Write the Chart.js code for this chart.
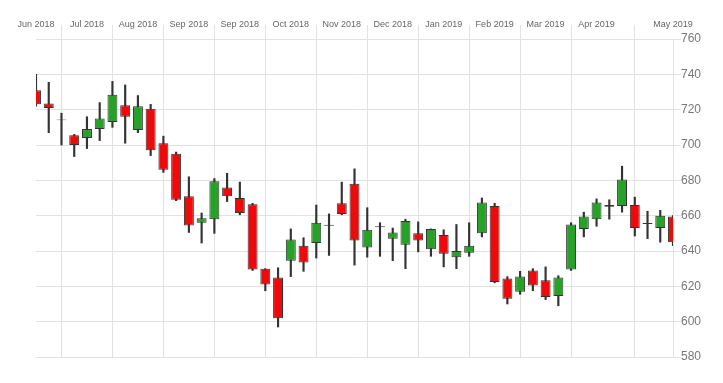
<!DOCTYPE html>
<html>
<head>
<meta charset="utf-8">
<script src="https://cdn.jsdelivr.net/npm/chart.js@4.4.0/dist/chart.umd.min.js"></script>
<style>
  html, body { margin: 0; padding: 0; background: #fff; }
  #wrap { width: 723px; height: 383px; }
</style>
</head>
<body>
<div id="wrap"><canvas id="candles"></canvas></div>
<script>
// weekly candles, Jun 2018 - May 2019
var weeks = [
  '2018-06-01','2018-06-08','2018-06-15','2018-06-22','2018-06-29','2018-07-06','2018-07-13',
  '2018-07-20','2018-07-27','2018-08-03','2018-08-10','2018-08-17','2018-08-24','2018-08-31',
  '2018-09-07','2018-09-14','2018-09-21','2018-09-28','2018-10-05','2018-10-12','2018-10-19',
  '2018-10-26','2018-11-02','2018-11-09','2018-11-16','2018-11-23','2018-11-30','2018-12-07',
  '2018-12-14','2018-12-21','2018-12-28','2019-01-04','2019-01-11','2019-01-18','2019-01-25',
  '2019-02-01','2019-02-08','2019-02-15','2019-02-22','2019-03-01','2019-03-08','2019-03-15',
  '2019-03-22','2019-03-29','2019-04-05','2019-04-12','2019-04-19','2019-04-26','2019-05-03',
  '2019-05-10','2019-05-17'
];
var open = [731, 723.5, 714.5, 705.5, 704, 709, 713, 722.5, 708.5, 720.5, 701, 695, 671,
  656, 658, 676, 670, 666.5, 630, 625, 634.5, 643, 644.5, 654.8, 667, 678,
  642, 654, 647, 643.5, 650, 641, 649, 636.5, 639, 650, 665.5, 624.5, 617,
  629, 623.5, 614.5, 629.5, 652.5, 658, 665, 665.5, 666, 655.8, 653, 659.5];
var high = [740, 735.5, 718, 706, 716, 724, 736, 734, 728, 723, 705, 696, 682,
  661.5, 681, 684, 679, 667, 630, 630.5, 652.5, 647.5, 666, 661, 679, 686.5,
  664.5, 656, 653, 658, 656.5, 652.5, 652, 655, 656, 670, 667, 625.5, 628.5,
  630, 631, 626, 656, 662, 669.5, 669, 688, 670.5, 662.5, 663, 660];
var low = [722, 707, 700, 693.5, 698, 702.5, 710, 701, 707, 694, 684.5, 668.5, 650.5,
  644.5, 650, 668, 660.5, 629, 617.5, 597, 625.5, 628.5, 636, 637.5, 660.5, 632,
  636.5, 637, 634.5, 630, 639.5, 637, 631, 630, 637, 648, 622, 610, 615.5,
  617.5, 612.5, 609, 629, 648, 654, 658, 662, 648.5, 647, 645, 643];
var close = [723, 721, 714, 700, 709, 715, 728.5, 716, 722, 697, 686, 669, 654.5,
  658.5, 679.5, 671, 661.5, 629.5, 621, 602, 646.5, 633.5, 656, 654.3, 661, 646,
  652, 653.4, 650.5, 657, 646, 652.5, 638.5, 640, 643, 667.5, 622.5, 613, 625.5,
  620.5, 614, 625, 655, 659.5, 667.5, 666, 680.5, 653, 655.3, 660, 645];

var tickIndex = [0, 4, 8, 12, 16, 20, 24, 28, 32, 36, 40, 44, 50];
var tickLabels = ['Jun 2018', 'Jul 2018', 'Aug 2018', 'Sep 2018', 'Sep 2018', 'Oct 2018',
  'Nov 2018', 'Dec 2018', 'Jan 2019', 'Feb 2019', 'Mar 2019', 'Apr 2019', 'May 2019'];

var up = '#27a127';
var down = '#ee0a0a';
var gridColor = '#e2e2e2';

var bodies = weeks.map(function (w, i) { return [open[i], close[i]]; });
var wicks = weeks.map(function (w, i) { return [low[i], high[i]]; });

var ctx = document.getElementById('candles').getContext('2d');
var myChart = new Chart(ctx, {
  type: 'bar',
  data: {
    labels: weeks,
    datasets: [{
      label: 'body',
      data: bodies,
      order: 1,
      grouped: false,
      barPercentage: 0.78,
      categoryPercentage: 1,
      borderWidth: 1,
      borderSkipped: false,
      borderColor: '#333',
      backgroundColor: function (c) {
        var i = c.dataIndex;
        return close[i] >= open[i] ? up : down;
      }
    }, {
      label: 'wick',
      data: wicks,
      order: 2,
      grouped: false,
      barThickness: 1.5,
      borderWidth: 0,
      backgroundColor: '#333'
    }]
  },
  options: {
    responsive: true,
    maintainAspectRatio: false,
    animation: false,
    layout: { padding: { left: 36, top: 0, right: 0, bottom: 26 } },
    plugins: {
      legend: { display: false },
      tooltip: { enabled: false }
    },
    scales: {
      x: {
        position: 'top',
        offset: false,
        grid: { color: gridColor, tickLength: 14 },
        border: { color: gridColor },
        ticks: {
          autoSkip: false,
          maxRotation: 0,
          padding: -5,
          color: '#666',
          font: { family: 'Liberation Sans, Arial, sans-serif', size: 9 },
          callback: function (v) { return tickLabels[tickIndex.indexOf(v)]; }
        },
        afterBuildTicks: function (s) {
          s.ticks = s.ticks.filter(function (t) { return tickIndex.indexOf(t.value) >= 0; });
        },
        afterFit: function (s) { s.height = 39; }
      },
      y: {
        position: 'right',
        min: 580,
        max: 760,
        grid: { color: gridColor, tickLength: 8 },
        border: { color: gridColor },
        ticks: {
          stepSize: 20,
          padding: 0,
          color: '#777',
          font: { family: 'Liberation Sans, Arial, sans-serif', size: 12 }
        },
        afterFit: function (s) { s.width = 50; }
      }
    }
  }
});
</script>
</body>
</html>
